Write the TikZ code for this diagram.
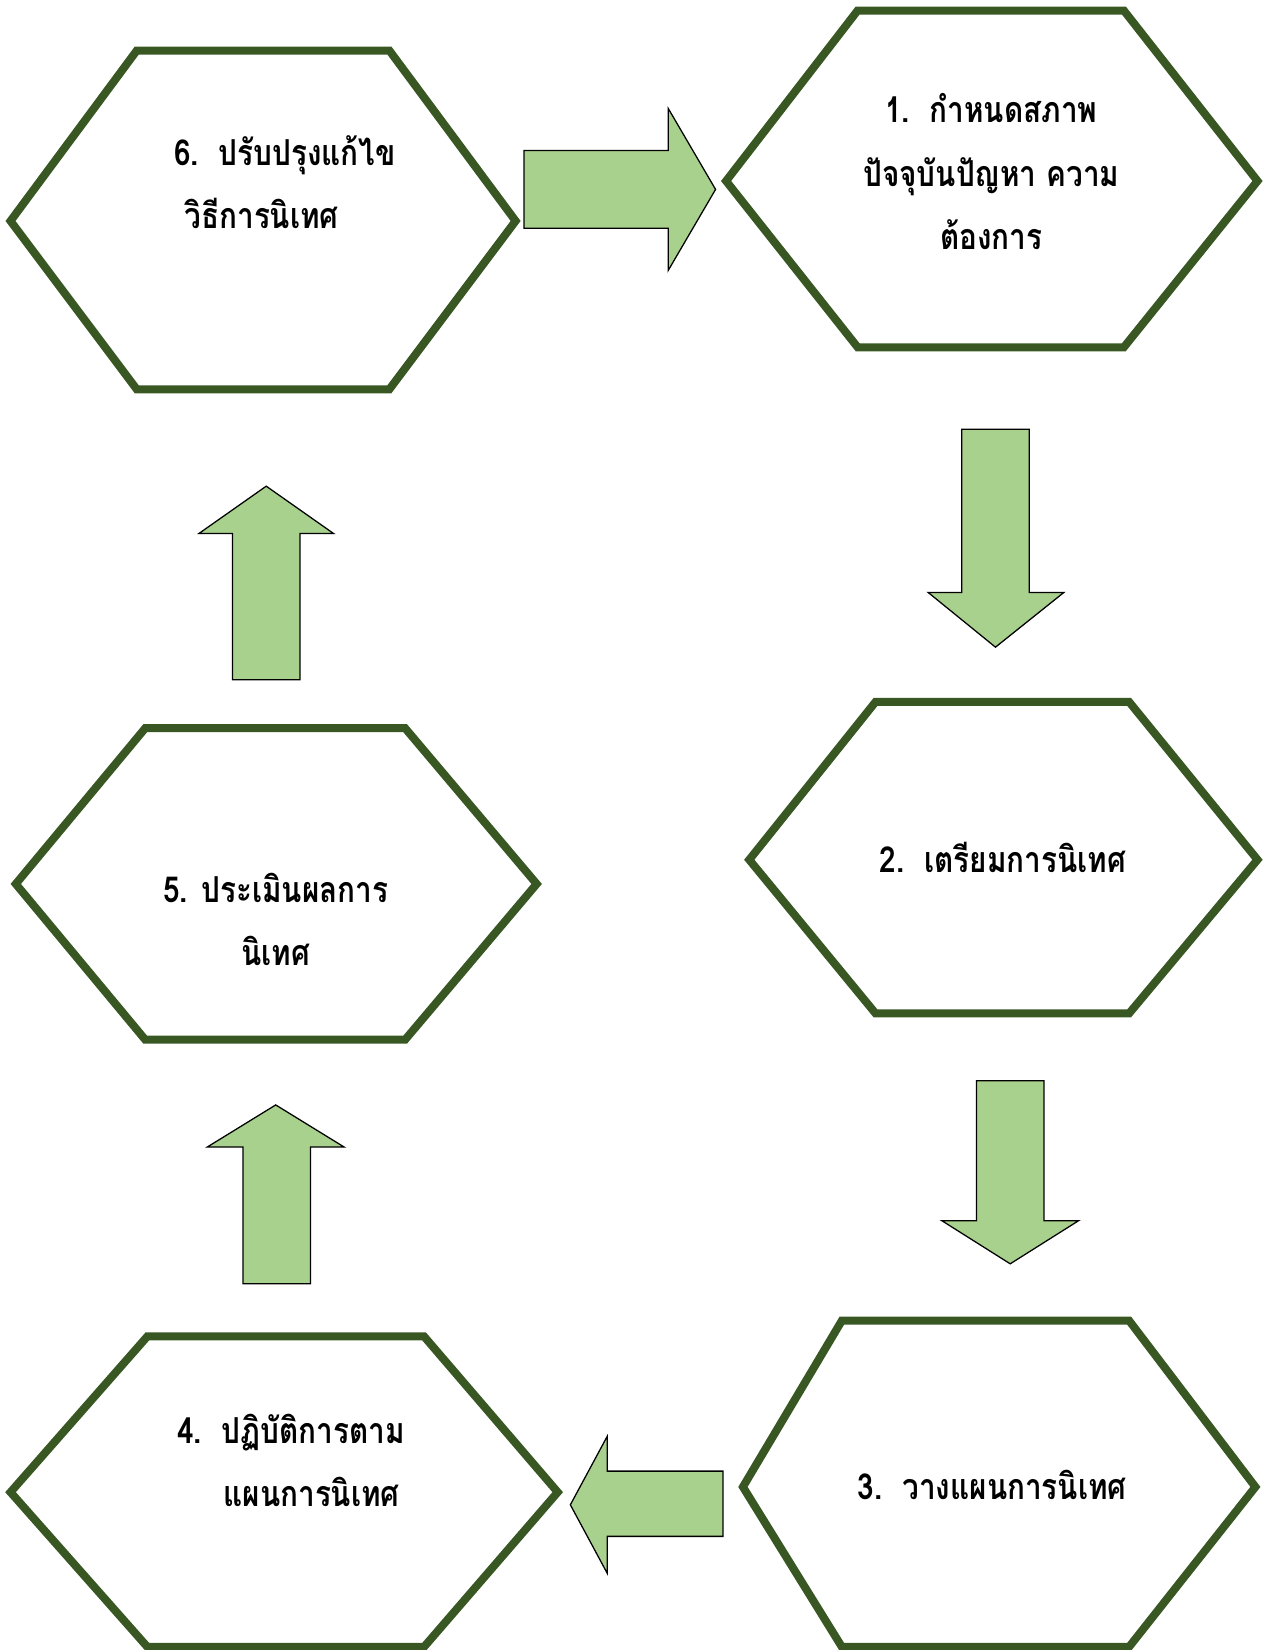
\documentclass[tikz,border=0pt]{standalone}
\usepackage{fontspec}
\newfontfamily\thaifont[Script=Thai,FakeStretch=0.83]{Loma}
\definecolor{hexgreen}{HTML}{385723}
\definecolor{arrowgreen}{HTML}{A9D18E}

\begin{document}
\begin{tikzpicture}[x=0.5pt,y=-0.5pt,
  hexline/.style={draw=hexgreen,line width=3.8pt,line join=miter},
  blockarrow/.style={fill=arrowgreen,draw=black,line width=0.6pt},
  steptext/.style={font=\thaifont\bfseries\fontsize{17}{30}\selectfont,inner sep=0pt}]

  \useasboundingbox (0,0) rectangle (1203,1568);

  % ---- Hexagons ----------------------------------------------
  % step 6 (top left)
  \draw[hexline] (10,210) -- (130,48) -- (370,48) -- (490,210) -- (370,370) -- (130,370) -- cycle;
  % step 1 (top right)
  \draw[hexline] (690,172) -- (815,10) -- (1068,10) -- (1195,172) -- (1068,330) -- (815,330) -- cycle;
  % step 2
  \draw[hexline] (712,817) -- (832,667) -- (1073,667) -- (1195,817) -- (1073,963) -- (832,963) -- cycle;
  % step 3
  \draw[hexline] (706,1413) -- (800,1255) -- (1073,1255) -- (1193,1413) -- (1073,1565) -- (800,1565) -- cycle;
  % step 4
  \draw[hexline] (10,1418) -- (140,1270) -- (403,1270) -- (530,1418) -- (403,1565) -- (140,1565) -- cycle;
  % step 5
  \draw[hexline] (15,840) -- (138,692) -- (385,692) -- (510,840) -- (385,988) -- (138,988) -- cycle;

  % ---- Labels ------------------------------------------------
  \node[steptext,align=center] (step1) at (942,163)
    {1.\ \ กำหนดสภาพ\\ปัจจุบันปัญหา ความ\\ต้องการ};
  \node[steptext] (step2) at (953,815) {2.\ \ เตรียมการนิเทศ};
  \node[steptext] (step3) at (943,1411) {3.\ \ วางแผนการนิเทศ};
  \node[steptext,align=left,anchor=west] (step4) at (168,1388)
    {4.\ \ ปฏิบัติการตาม\\\hspace*{22pt}แผนการนิเทศ};
  \node[steptext,align=center] (step5) at (262,874)
    {5. ประเมินผลการ\\นิเทศ};
  \node[steptext,align=left,anchor=west] (step6) at (165,173)
    {6.\ \ ปรับปรุงแก้ไข\\\hspace*{5pt}วิธีการนิเทศ};

  % ---- Block arrows ------------------------------------------
  % 6 -> 1
  \draw[blockarrow] (498,143) -- (635,143) -- (635,103) -- (680,180) -- (635,257) -- (635,217) -- (498,217) -- cycle;
  % 1 -> 2
  \draw[blockarrow] (914,408) -- (978,408) -- (978,563) -- (1011,563) -- (946,615) -- (882,563) -- (914,563) -- cycle;
  % 2 -> 3
  \draw[blockarrow] (928,1027) -- (992,1027) -- (992,1160) -- (1025,1160) -- (960,1201) -- (895,1160) -- (928,1160) -- cycle;
  % 3 -> 4
  \draw[blockarrow] (687,1398) -- (577,1398) -- (577,1365) -- (542,1430) -- (577,1495) -- (577,1460) -- (687,1460) -- cycle;
  % 4 -> 5
  \draw[blockarrow] (231,1220) -- (231,1090) -- (197,1090) -- (262,1050) -- (327,1090) -- (295,1090) -- (295,1220) -- cycle;
  % 5 -> 6
  \draw[blockarrow] (221,646) -- (221,507) -- (189,507) -- (253,462) -- (317,507) -- (285,507) -- (285,646) -- cycle;

\end{tikzpicture}
\end{document}
